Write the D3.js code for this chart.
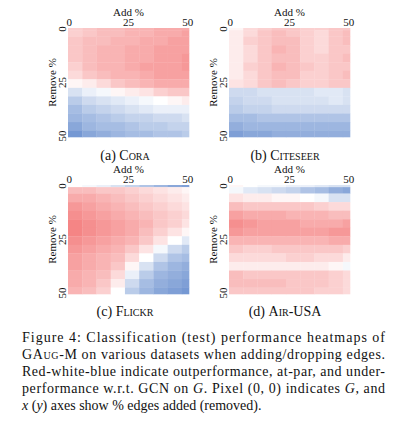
<!DOCTYPE html><html><head><meta charset="utf-8">
<script src="https://cdn.jsdelivr.net/npm/d3@7"></script>
<style>body{margin:0;background:#fff}text{font-family:"Liberation Serif",serif;fill:#111}</style></head><body>
<script>
const rowStarts=[0,1,4,8,12,16,20,24,28,32,36,40,44,48], rowEnd=51;
const colStarts=[0,6,12,18,24,30,36,42,48], colEnd=51;
const tickLabels=["0","25","50"];
const cora=[
[.25,.3,.35,.35,.4,.4,.45,.45,.45],[.25,.3,.35,.35,.4,.4,.45,.45,.5],[.3,.35,.35,.4,.4,.45,.45,.5,.5],
[.3,.35,.4,.4,.45,.45,.5,.5,.5],[.3,.35,.4,.4,.45,.45,.5,.5,.55],[.25,.35,.4,.4,.45,.5,.5,.5,.55],
[.2,.3,.35,.4,.4,.45,.5,.5,.5],[.05,.1,.2,.3,.35,.4,.45,.45,.45],[-.2,-.1,-.05,.05,.1,.15,.25,.3,.3],
[-.35,-.25,-.2,-.15,-.1,-.05,0,.05,.1],[-.45,-.35,-.3,-.25,-.2,-.15,-.1,-.1,-.1],[-.5,-.45,-.4,-.35,-.3,-.3,-.25,-.25,-.2],
[-.6,-.5,-.45,-.45,-.4,-.35,-.35,-.3,-.3],[-.7,-.6,-.55,-.5,-.45,-.45,-.4,-.4,-.35]];
const citeseer=[
[.05,.2,.25,.3,.3,.25,.25,.3,.3],[.1,.2,.3,.35,.3,.25,.2,.3,.35],[.1,.25,.3,.35,.35,.25,.2,.3,.35],
[.1,.2,.3,.4,.35,.25,.2,.3,.3],[.1,.2,.3,.35,.35,.25,.25,.3,.35],[.1,.25,.3,.4,.35,.3,.25,.3,.3],
[.1,.2,.3,.35,.35,.25,.25,.3,.35],[.15,.2,.3,.35,.3,.25,.25,.3,.3],[-.25,-.25,-.2,-.2,-.2,-.2,-.15,-.15,-.2],
[-.3,-.25,-.25,-.2,-.2,-.2,-.2,-.15,-.2],[-.35,-.3,-.3,-.25,-.25,-.25,-.25,-.25,-.25],[-.45,-.45,-.4,-.4,-.4,-.4,-.4,-.4,-.4],
[-.55,-.5,-.5,-.5,-.5,-.5,-.5,-.5,-.5],[-.65,-.6,-.6,-.55,-.55,-.55,-.55,-.55,-.55]];
const flickr=[
[0,-.05,-.1,-.2,-.3,-.4,-.5,-.6,-.65],[.35,.35,.3,.3,.25,.2,.15,.1,.05],[.45,.45,.4,.35,.3,.25,.2,.15,.1],
[.55,.5,.45,.4,.35,.3,.25,.2,.15],[.6,.55,.5,.45,.4,.35,.3,.25,.2],[.65,.6,.55,.5,.45,.4,.3,.25,.15],
[.65,.6,.55,.5,.45,.35,.25,.15,.05],[.6,.55,.5,.45,.4,.3,.15,0,-.15],[.55,.5,.45,.4,.3,.15,-.05,-.25,-.35],
[.5,.45,.4,.35,.2,0,-.25,-.4,-.45],[.5,.45,.4,.3,.05,-.2,-.4,-.5,-.55],[.45,.4,.35,.2,-.1,-.35,-.5,-.55,-.6],
[.45,.4,.3,.1,-.25,-.45,-.55,-.6,-.65],[.4,.35,.25,0,-.35,-.5,-.6,-.65,-.7]];
const airusa=[
[.05,0,-.05,-.05,-.1,-.1,-.15,-.2,-.2],[-.05,-.15,-.2,-.25,-.3,-.4,-.45,-.55,-.6],[.15,.1,.1,.05,.05,0,-.05,-.2,-.2],
[.35,.3,.3,.3,.3,.3,.25,.2,.2],[.5,.45,.45,.45,.4,.4,.4,.35,.35],[.6,.55,.5,.5,.5,.45,.45,.45,.5],
[.55,.5,.5,.5,.5,.5,.5,.55,.55],[.4,.4,.4,.4,.4,.4,.4,.45,.45],[.3,.25,.25,.3,.3,.3,.3,.3,.25],
[.2,.2,.2,.2,.25,.25,.2,.2,.1],[.1,.1,.1,.1,.1,.1,.1,.05,-.05],[.35,.3,.3,.3,.3,.3,.3,.25,.2],
[.35,.35,.35,.35,.3,.3,.3,.25,.2],[.3,.3,.3,.3,.3,.3,.25,.25,.2]];
const panels=[
 {data:cora,x:68,y:28,cap:"(a) ",name:"Cora",cx:125,cy:160},
 {data:citeseer,x:229,y:28,cap:"(b) ",name:"Citeseer",cx:285,cy:160},
 {data:flickr,x:68,y:185,cap:"(c) ",name:"Flickr",cx:125,cy:316},
 {data:airusa,x:229,y:185,cap:"(d) ",name:"Air-USA",cx:285,cy:316}];
const red=d3.interpolateRgb("#ffffff","#ee3a3a"), blue=d3.interpolateRgb("#ffffff","#3a6cc0");
const color=v=>v>=0?red(Math.min(1,v*0.95)):blue(Math.min(1,-v*1.0));
const svg=d3.select("body").append("svg").attr("width",404).attr("height",428);
const W=121,H=109;
panels.forEach(p=>{
 const x=d3.scaleLinear().domain([0,51]).range([p.x,p.x+W]);
 const y=d3.scaleLinear().domain([0,51]).range([p.y,p.y+H]);
 const g=svg.append("g");
 p.data.forEach((row,i)=>row.forEach((v,j)=>{
  const x0=colStarts[j],x1=j+1<colStarts.length?colStarts[j+1]:colEnd;
  const y0=rowStarts[i],y1=i+1<rowStarts.length?rowStarts[i+1]:rowEnd;
  g.append("rect").attr("x",x(x0)).attr("y",y(y0)).attr("width",x(x1)-x(x0)+0.3).attr("height",y(y1)-y(y0)+0.3).attr("fill",color(v));
 }));
 tickLabels.forEach(t=>{
  const v=+t+0.5;
  g.append("text").attr("x",x(v)).attr("y",p.y-2).attr("text-anchor","middle").attr("font-size",11).text(t);
  g.append("text").attr("transform",`translate(${p.x-2},${y(v)}) rotate(-90)`).attr("text-anchor","middle").attr("font-size",11).text(t);
 });
 g.append("text").attr("x",p.x+W/2).attr("y",p.y-12).attr("text-anchor","middle").attr("font-size",11).text("Add %");
 g.append("text").attr("transform",`translate(${p.x-12},${p.y+H/2}) rotate(-90)`).attr("text-anchor","middle").attr("font-size",11).text("Remove %");
 const c=g.append("text").attr("x",p.cx).attr("y",p.cy).attr("text-anchor","middle").attr("font-size",14);
 c.append("tspan").text(p.cap);
 c.append("tspan").style("font-variant","small-caps").text(p.name);
});
const L=22,R=385;
const ys=[342,359,376,393,410];
ys.forEach((yy,i)=>{
 const t=svg.append("text").attr("x",L).attr("y",yy).attr("font-size",14);
 if(i==0){t.text("Figure 4: Classification (test) performance heatmaps of");}
 else if(i==2){t.text("Red-white-blue indicate outperformance, at-par, and under-");}
 else if(i==1){t.append("tspan").text("GA");t.append("tspan").style("font-variant","small-caps").text("ug");
  t.append("tspan").text("-M on various datasets when adding/dropping edges.");}
 else if(i==3){t.append("tspan").text("performance w.r.t. GCN on ");t.append("tspan").attr("font-style","italic").text("G");
  t.append("tspan").text(". Pixel (0, 0) indicates ");t.append("tspan").attr("font-style","italic").text("G");t.append("tspan").text(", and");}
 else {t.append("tspan").attr("font-style","italic").text("x");t.append("tspan").text(" (");t.append("tspan").attr("font-style","italic").text("y");
  t.append("tspan").text(") axes show % edges added (removed).");}
 if(i<4) t.attr("textLength",R-L).attr("lengthAdjust","spacing");
});
</script></body></html>
